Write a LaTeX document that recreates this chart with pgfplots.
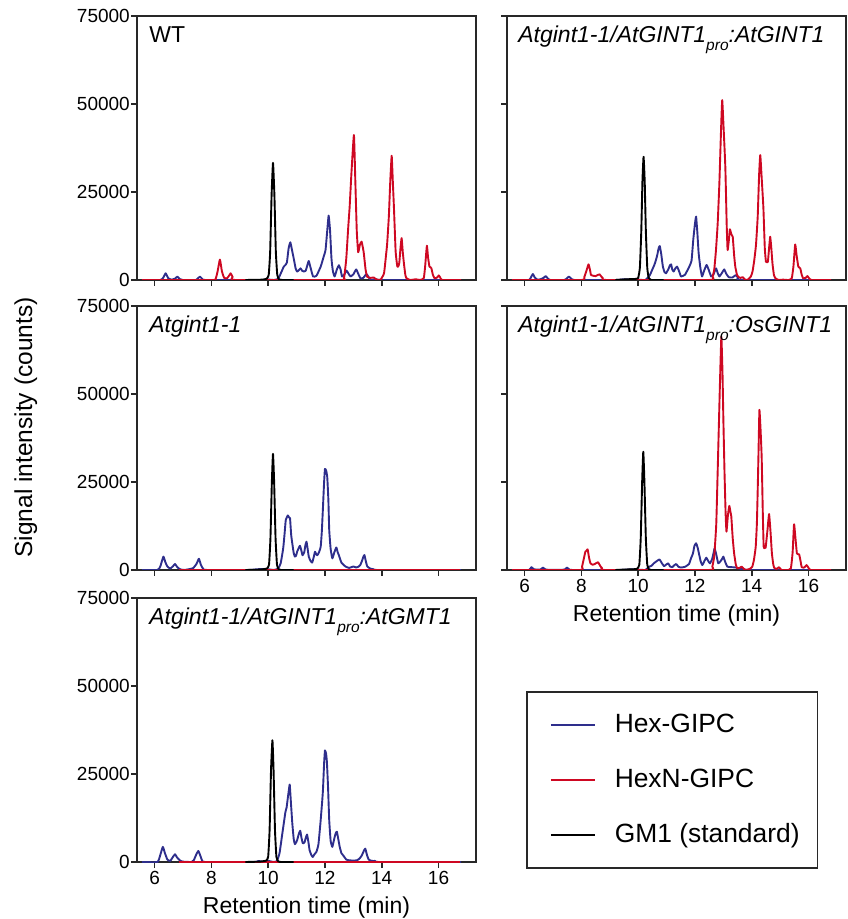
\documentclass[border=0pt]{standalone}
\usepackage{pgfplots}
\pgfplotsset{compat=1.18}
\usepackage{fontspec}
\setmainfont{Liberation Sans}
\definecolor{hexblue}{RGB}{46,46,140}
\definecolor{hexred}{RGB}{206,8,34}
\definecolor{axgray}{RGB}{40,40,40}
\newcommand{\ttl}[1]{\fontsize{23}{26}\selectfont\itshape #1}
\newcommand{\pro}{\raisebox{-0.35em}{\fontsize{15.5}{17}\selectfont pro}}
\pgfplotsset{
  panel/.style={
    scale only axis, width=339pt, height=264pt,
    xmin=5.38, xmax=17.32, ymin=0, ymax=75000,
    xtick={6,8,10,12,14,16}, ytick={0,25000,50000,75000},
    tick align=outside, xtick pos=left, ytick pos=left,
    major tick length=6pt,
    axis line style={draw=axgray, line width=1.8pt},
    every tick/.style={draw=axgray, line width=1.6pt},
    scaled y ticks=false,
    /pgf/number format/assume math mode=true,
    /pgf/number format/1000 sep={},
    tick label style={font=\fontsize{19}{22}\selectfont},
    yticklabel style={inner xsep=1pt},
    x label style={font=\fontsize{23}{27}\selectfont, yshift=-5pt},
    y label style={font=\fontsize{24.5}{28}\selectfont},
    every axis plot/.append style={line width=1.9pt, line join=round, smooth, tension=0.25},
  },
  notx/.style={xticklabels={}},
  noty/.style={yticklabels={}},
}
\begin{document}
\begin{tikzpicture}
\useasboundingbox (0,0) rectangle (847pt,919pt);
% ---------- WT ----------
\begin{axis}[panel, notx, at={(137pt,639pt)}, anchor=south west]
\addplot[hexblue] coordinates {(5.55,0) (6.2,0) (6.3,600) (6.39,1900) (6.48,500) (6.6,100) (6.72,400) (6.80,950) (6.88,300) (7.0,0) (7.45,0) (7.53,500) (7.60,950) (7.68,300) (7.8,0) (9.8,0) (9.95,200) (10.05,100) (10.2,0) (10.35,300) (10.44,1800) (10.55,3800) (10.61,4300) (10.66,5000) (10.72,9000) (10.78,10700) (10.84,8500) (10.91,5700) (10.97,3200) (11.02,2400) (11.08,2800) (11.14,3300) (11.2,2600) (11.26,2400) (11.32,2600) (11.38,4200) (11.43,5400) (11.49,3600) (11.58,1000) (11.7,1200) (11.85,3800) (11.95,6500) (12.02,8500) (12.08,14000) (12.13,18300) (12.18,14000) (12.23,6000) (12.28,2500) (12.34,1000) (12.42,3000) (12.49,4200) (12.55,3000) (12.6,1000) (12.68,1500) (12.76,2650) (12.83,1800) (12.9,1000) (13.0,1600) (13.10,3000) (13.17,1800) (13.25,500) (13.35,600) (13.46,1700) (13.54,800) (13.61,0) (13.8,200) (14.0,0) (16.8,0)};
\addplot[hexred] coordinates {(5.55,0) (8.05,0) (8.15,300) (8.22,2500) (8.30,5800) (8.37,2500) (8.45,600) (8.55,500) (8.62,1200) (8.68,1900) (8.75,800) (8.85,0) (12.55,0) (12.67,500) (12.75,6000) (12.82,15000) (12.87,20800) (12.93,30000) (13.02,41200) (13.07,28000) (13.12,14000) (13.17,7900) (13.23,10000) (13.29,10900) (13.34,9000) (13.37,7500) (13.43,3000) (13.49,900) (13.6,600) (13.72,700) (13.8,200) (13.95,0) (14.08,1900) (14.15,7000) (14.19,10200) (14.25,18000) (14.3,28000) (14.35,35300) (14.39,28000) (14.43,20500) (14.49,8000) (14.55,3800) (14.59,4000) (14.62,5000) (14.66,9000) (14.70,11900) (14.74,8000) (14.78,4800) (14.83,1500) (14.87,500) (15.0,0) (15.2,200) (15.35,0) (15.48,500) (15.53,4000) (15.59,9750) (15.63,6500) (15.68,3800) (15.72,3600) (15.75,3300) (15.8,1500) (15.86,500) (15.95,700) (16.01,1300) (16.06,700) (16.13,0) (16.8,0)};
\addplot[black] coordinates {(9.2,0) (9.8,100) (9.95,400) (10.02,1500) (10.07,8000) (10.12,24000) (10.17,33300) (10.22,24000) (10.27,8000) (10.32,1500) (10.38,200) (10.5,0) (10.9,0)};
\node[anchor=base west] at (axis description cs:0.026,0.9015) {\fontsize{23}{26}\selectfont WT};
\end{axis}
% ---------- AtGINT1 ----------
\begin{axis}[panel, notx, noty, at={(507pt,639pt)}, anchor=south west]
\addplot[hexblue] coordinates {(5.55,0) (6.15,0) (6.22,700) (6.29,1700) (6.36,700) (6.45,100) (6.55,200) (6.67,600) (6.74,1100) (6.81,500) (6.9,0) (7.4,0) (7.49,500) (7.56,950) (7.63,500) (7.75,0) (9.2,0) (9.5,200) (10.0,100) (10.25,0) (10.4,1200) (10.50,3000) (10.57,4300) (10.62,5500) (10.67,7000) (10.72,9000) (10.76,9650) (10.81,7500) (10.87,3800) (10.93,2200) (10.98,1900) (11.06,3000) (11.12,4200) (11.16,4450) (11.2,3000) (11.25,2400) (11.3,3200) (11.37,3800) (11.44,2500) (11.51,1000) (11.65,1500) (11.80,3800) (11.88,5500) (11.94,11400) (12.00,16000) (12.04,18000) (12.08,14000) (12.13,7600) (12.19,3500) (12.25,1000) (12.33,2800) (12.41,4260) (12.48,3000) (12.57,1000) (12.65,1500) (12.74,3300) (12.8,2000) (12.86,1000) (12.95,2000) (13.03,3000) (13.1,1800) (13.19,800) (13.32,700) (13.44,1400) (13.52,600) (13.62,0) (16.8,0)};
\addplot[hexred] coordinates {(5.55,0) (8.0,0) (8.1,800) (8.17,2400) (8.25,4450) (8.30,3000) (8.34,1400) (8.42,1200) (8.50,1100) (8.57,1400) (8.64,1600) (8.70,1000) (8.76,500) (8.9,0) (12.5,0) (12.62,1000) (12.68,3000) (12.74,8500) (12.80,16000) (12.86,27500) (12.92,43000) (12.96,51100) (13.01,43000) (13.07,32000) (13.12,15000) (13.15,8500) (13.19,11000) (13.23,14400) (13.28,13000) (13.33,12300) (13.38,7000) (13.42,3800) (13.48,1500) (13.54,800) (13.6,600) (13.68,800) (13.75,200) (13.85,0) (13.97,1000) (14.03,2500) (14.09,5700) (14.15,10000) (14.21,18000) (14.26,30000) (14.30,35500) (14.35,29000) (14.41,20500) (14.46,9000) (14.50,5200) (14.54,5000) (14.57,5200) (14.61,9000) (14.65,12300) (14.69,9000) (14.73,4700) (14.78,1500) (14.83,500) (14.95,0) (15.1,100) (15.3,0) (15.41,500) (15.47,4000) (15.53,10100) (15.58,7000) (15.64,3800) (15.68,3500) (15.71,3300) (15.76,1500) (15.81,500) (15.9,600) (15.96,1100) (16.02,500) (16.1,0) (16.8,0)};
\addplot[black] coordinates {(9.2,0) (9.6,200) (9.9,300) (10.0,600) (10.06,3500) (10.11,14000) (10.15,28000) (10.19,35000) (10.23,28000) (10.27,14000) (10.32,3500) (10.37,600) (10.45,0) (10.9,0)};
\node[anchor=base west] at (axis description cs:0.023,0.9015) {\ttl{Atgint1-1/AtGINT1\pro:AtGINT1}};
\end{axis}
% ---------- Atgint1-1 ----------
\begin{axis}[panel, notx, at={(137pt,349pt)}, anchor=south west,
  ylabel={Signal intensity (counts)},
  y label style={at={(axis description cs:-0.328,0.54)}, anchor=center}]
\addplot[hexblue] coordinates {(5.55,0) (6.1,0) (6.2,1000) (6.31,3800) (6.38,2200) (6.45,1000) (6.55,400) (6.65,1100) (6.72,1700) (6.80,800) (6.9,200) (7.05,0) (7.35,500) (7.48,1800) (7.56,3200) (7.63,1500) (7.72,200) (7.85,0) (9.3,0) (9.6,200) (9.9,300) (10.2,0) (10.35,400) (10.44,1900) (10.53,6200) (10.58,10500) (10.62,14200) (10.69,15500) (10.73,15000) (10.77,14700) (10.81,10000) (10.85,7500) (10.90,4800) (10.94,3800) (10.98,4000) (11.02,5200) (11.08,6300) (11.12,6900) (11.17,5500) (11.21,4200) (11.27,5000) (11.31,7000) (11.35,8050) (11.39,6000) (11.43,3800) (11.49,2600) (11.55,2100) (11.60,3500) (11.65,5200) (11.69,4500) (11.73,4200) (11.79,5000) (11.85,6600) (11.89,11000) (11.93,17800) (11.97,25000) (12.00,28700) (12.04,28300) (12.08,26500) (12.12,20000) (12.15,11400) (12.20,6000) (12.26,3300) (12.33,5000) (12.40,6400) (12.45,5000) (12.49,4200) (12.54,3000) (12.58,2100) (12.65,1500) (12.73,950) (12.85,600) (13.0,1000) (13.1,700) (13.19,1000) (13.25,1500) (13.31,2700) (13.36,3900) (13.39,4250) (13.44,2500) (13.49,1000) (13.6,400) (13.72,200) (13.85,0) (16.8,0)};
\addplot[hexred] coordinates {(6.85,0) (16.75,0)};
\addplot[black] coordinates {(9.2,0) (9.7,100) (9.95,400) (10.03,1500) (10.08,9000) (10.13,25000) (10.17,33000) (10.21,25000) (10.26,9000) (10.31,1500) (10.37,200) (10.45,0) (10.9,0)};
\node[anchor=base west] at (axis description cs:0.026,0.9015) {\ttl{Atgint1-1}};
\end{axis}
% ---------- OsGINT1 ----------
\begin{axis}[panel, noty, at={(507pt,349pt)}, anchor=south west,
  xlabel={Retention time (min)}]
\addplot[hexblue] coordinates {(5.55,0) (6.15,0) (6.24,800) (6.33,200) (6.55,100) (6.65,700) (6.75,100) (7.4,100) (7.49,700) (7.58,100) (7.75,0) (9.3,0) (9.8,200) (10.25,0) (10.38,900) (10.47,1200) (10.55,1900) (10.65,2500) (10.75,3000) (10.83,2000) (10.91,1100) (10.98,1500) (11.06,1900) (11.12,1000) (11.2,800) (11.28,1400) (11.34,1700) (11.42,900) (11.5,700) (11.65,900) (11.79,1700) (11.87,3500) (11.93,4700) (11.98,6800) (12.04,7600) (12.09,6500) (12.14,4700) (12.20,2500) (12.26,1400) (12.33,2500) (12.40,3500) (12.47,2500) (12.53,1900) (12.6,3000) (12.66,5000) (12.69,6150) (12.74,4800) (12.82,1900) (12.9,2500) (12.96,3200) (13.00,3800) (13.07,2200) (13.14,950) (13.3,800) (13.44,700) (13.6,300) (13.75,200) (13.9,0) (16.8,0)};
\addplot[hexred] coordinates {(5.55,0) (7.95,0) (8.02,900) (8.08,3000) (8.14,5200) (8.18,5500) (8.22,5870) (8.27,3500) (8.32,1900) (8.4,1500) (8.47,1700) (8.53,2000) (8.59,2200) (8.66,1200) (8.73,500) (8.85,0) (12.5,0) (12.61,950) (12.68,4000) (12.75,13000) (12.80,28000) (12.85,43600) (12.89,56000) (12.93,66300) (12.97,56000) (13.00,43000) (13.04,28000) (13.08,16000) (13.11,10900) (13.16,15500) (13.21,18200) (13.25,16500) (13.28,15200) (13.33,9000) (13.38,4700) (13.44,1500) (13.49,500) (13.57,600) (13.65,950) (13.72,300) (13.8,0) (13.95,400) (14.02,950) (14.08,3000) (14.14,6600) (14.18,13000) (14.21,22700) (14.24,34000) (14.27,45500) (14.31,40000) (14.35,32000) (14.39,16000) (14.42,6600) (14.46,6300) (14.49,6400) (14.55,11000) (14.61,15900) (14.66,11000) (14.71,4700) (14.76,1500) (14.80,500) (14.88,300) (14.96,800) (15.05,0) (15.3,0) (15.38,500) (15.44,5000) (15.49,13000) (15.54,9000) (15.59,4700) (15.63,4500) (15.67,4450) (15.72,2500) (15.76,800) (15.85,700) (15.93,1400) (16.0,600) (16.08,0) (16.8,0)};
\addplot[black] coordinates {(9.2,0) (9.6,150) (9.95,300) (10.04,1500) (10.09,9000) (10.14,25000) (10.18,33600) (10.22,25000) (10.27,9000) (10.32,1500) (10.38,200) (10.45,0) (10.9,0)};
\node[anchor=base west] at (axis description cs:0.023,0.9015) {\ttl{Atgint1-1/AtGINT1\pro:OsGINT1}};
\end{axis}
% ---------- AtGMT1 ----------
\begin{axis}[panel, at={(137pt,57pt)}, anchor=south west,
  xlabel={Retention time (min)},
  legend style={at={(axis description cs:1.1475,0.6477)}, anchor=north west,
    draw=axgray, line width=1.5pt, fill=white,
    font=\fontsize{26.4}{30}\selectfont,
    inner xsep=15pt, inner ysep=16pt, row sep=21pt,
    nodes={inner sep=3pt, text height=22pt, text depth=6pt}},
  legend cell align=left,
  legend image code/.code={\path[draw=none, fill=none] (-9pt,0pt) (61pt,0pt); \draw[#1, line width=1.9pt] (0pt,0pt) -- (44pt,0pt);}]
\addplot[hexblue] coordinates {(5.55,0) (6.1,0) (6.2,2000) (6.29,4300) (6.36,2600) (6.45,700) (6.55,300) (6.65,1500) (6.72,2200) (6.79,1300) (6.9,400) (7.0,100) (7.3,0) (7.38,500) (7.46,2000) (7.54,3150) (7.61,1800) (7.68,300) (7.8,0) (9.5,0) (9.65,300) (9.8,100) (10.0,300) (10.2,0) (10.31,300) (10.4,2500) (10.49,7600) (10.55,11000) (10.61,14300) (10.65,15500) (10.69,18100) (10.73,20500) (10.76,22000) (10.80,17000) (10.85,11000) (10.9,6500) (10.94,5060) (10.98,5500) (11.02,6200) (11.08,8000) (11.13,8880) (11.17,7000) (11.22,5300) (11.28,5600) (11.33,7000) (11.37,7800) (11.42,5500) (11.46,3300) (11.52,2000) (11.57,1430) (11.63,2200) (11.70,2900) (11.77,5000) (11.84,11000) (11.9,17000) (11.93,20500) (11.97,28000) (12.00,31700) (12.04,30800) (12.07,28200) (12.11,21000) (12.15,11900) (12.2,6000) (12.26,4300) (12.33,6700) (12.38,8200) (12.42,8600) (12.47,6500) (12.52,4300) (12.58,2500) (12.64,1900) (12.75,700) (12.83,500) (13.0,400) (13.13,500) (13.22,1000) (13.30,1900) (13.36,3000) (13.42,3800) (13.48,2000) (13.54,700) (13.65,300) (13.77,300) (13.9,0) (16.8,0)};
\addlegendentry{Hex-GIPC}
\addplot[hexred] coordinates {(6.85,0) (16.75,0)};
\addlegendentry{HexN-GIPC}
\addplot[black] coordinates {(9.2,0) (9.7,100) (9.93,400) (10.0,1500) (10.05,9000) (10.10,26000) (10.15,34600) (10.19,26000) (10.24,9000) (10.29,1500) (10.35,200) (10.45,0) (10.9,0)};
\addlegendentry{GM1 (standard)}
\node[anchor=base west] at (axis description cs:0.026,0.9015) {\ttl{Atgint1-1/AtGINT1\pro:AtGMT1}};
\end{axis}
\end{tikzpicture}
\end{document}
